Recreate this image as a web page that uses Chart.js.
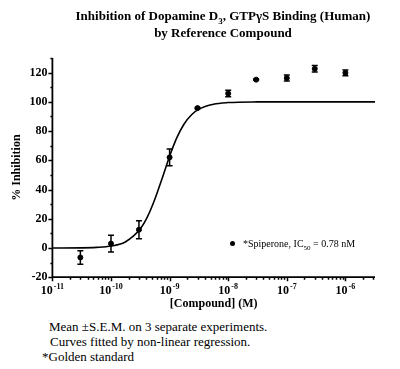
<!DOCTYPE html>
<html>
<head>
<meta charset="utf-8">
<script src="https://cdn.jsdelivr.net/npm/chart.js@4.4.1/dist/chart.umd.min.js"></script>
<style>
  body { margin: 0; background: #fff; }
  #wrap { position: relative; width: 400px; height: 369px; font-family: "Liberation Serif", serif; color: #000; }
  #chart { position: absolute; left: 0; top: 0; }
  .title { position: absolute; left: 0; width: 446px; text-align: center; font-weight: bold; font-size: 13px; line-height: 17px; top: 7px; }
  .title sub { font-size: 9px; line-height: 0; }
  .legend { position: absolute; left: 230px; top: 238px; font-size: 10px; white-space: nowrap; }
  .legend .dot { display: inline-block; width: 5px; height: 5px; border-radius: 50%; background: #000; margin-right: 8px; vertical-align: 1px; }
  .legend sub { font-size: 7px; line-height: 0; }
  .notes { position: absolute; top: 319px; font-size: 13px; line-height: 15px; white-space: nowrap; }
</style>
</head>
<body>
<div id="wrap">
  <canvas id="chart" width="400" height="311"></canvas>
  <div class="title">Inhibition of Dopamine D<sub>3</sub>, GTPγS Binding (Human)<br>by Reference Compound</div>
  <div class="legend"><span class="dot"></span>*Spiperone, IC<sub>50</sub> = 0.78 nM</div>
  <div class="notes" style="left:49px">Mean ±S.E.M. on 3 separate experiments.</div>
  <div class="notes" style="left:50px;top:334px">Curves fitted by non-linear regression.</div>
  <div class="notes" style="left:42px;top:349px">*Golden standard</div>
</div>
<script>
// measured points (M, % inhibition, S.E.M.)
const concentrations = [3e-11, 1e-10, 3e-10, 1e-9, 3e-9, 1e-8, 3e-8, 1e-7, 3e-7, 1e-6];
const inhibition = [-6.5, 3, 12.5, 62, 95.7, 105.7, 115.2, 116.3, 122.6, 119.8];
const sem = [4.6, 5.7, 6.2, 5.8, 0.5, 2.3, 0.5, 2, 2.2, 2];

// fitted curve
const fitConc = [1e-11, 3.16e-11, 5.62e-11, 1e-10, 1.78e-10, 3.16e-10, 4.22e-10, 5.62e-10, 7.5e-10, 1e-9,
  1.33e-9, 1.78e-9, 2.37e-9, 3.16e-9, 5.62e-9, 1e-8, 3.16e-8, 1e-7, 3.2e-6];
const fitValues = [0, 0.1, 0.4, 1.3, 4.3, 13.1, 21.6, 33.5, 47.9, 62.8,
  75.5, 85.0, 91.2, 95.0, 98.4, 99.5, 99.95, 100, 100];

const yTicks = [-20, 0, 20, 40, 60, 80, 100, 120];
const xDecades = [-11, -10, -9, -8, -7, -6];

const tickFont = { family: "Liberation Serif", size: 12, weight: "bold" };

// axes, tick marks, x labels with superscripts, error bars
const extras = {
  id: "extras",
  afterDatasetsDraw(chart) {
    const { ctx, scales: { x, y } } = chart;
    ctx.save();
    ctx.strokeStyle = "#000";
    ctx.lineWidth = 1.5;
    concentrations.forEach((c, i) => {
      const px = x.getPixelForValue(c);
      const top = y.getPixelForValue(inhibition[i] + sem[i]);
      const bot = y.getPixelForValue(inhibition[i] - sem[i]);
      ctx.beginPath();
      ctx.moveTo(px, top); ctx.lineTo(px, bot);
      ctx.moveTo(px - 3, top); ctx.lineTo(px + 3, top);
      ctx.moveTo(px - 3, bot); ctx.lineTo(px + 3, bot);
      ctx.stroke();
    });
    ctx.restore();
  },
  afterDraw(chart) {
    const { ctx, scales: { x, y } } = chart;
    ctx.save();
    ctx.strokeStyle = "#000";
    ctx.lineWidth = 1.8;
    ctx.beginPath();
    ctx.moveTo(x.left, y.top); ctx.lineTo(x.left, y.bottom); ctx.lineTo(x.right, y.bottom);
    ctx.stroke();
    ctx.lineWidth = 1.5;
    ctx.beginPath();
    for (let v = -20; v <= 130; v += 10) {
      const py = Math.round(y.getPixelForValue(v)) + 0.5;
      const len = v % 20 === 0 ? 4 : 2;
      ctx.moveTo(x.left, py); ctx.lineTo(x.left - len, py);
    }
    xDecades.forEach((e) => {
      for (let k = 1; k <= 9; k++) {
        const v = k * Math.pow(10, e);
        if (v > x.max * 1.0001) continue;
        const px = Math.round(x.getPixelForValue(v)) + 0.5;
        const len = k === 1 ? 4 : 2.5;
        ctx.moveTo(px, y.bottom); ctx.lineTo(px, y.bottom + len);
      }
    });
    ctx.stroke();

    // x labels: 10 with raised exponent
    ctx.fillStyle = "#000";
    ctx.textBaseline = "alphabetic";
    xDecades.forEach((e) => {
      const px = x.getPixelForValue(Math.pow(10, e));
      ctx.font = "bold 12px 'Liberation Serif'";
      const wb = ctx.measureText("10").width;
      ctx.font = "bold 8px 'Liberation Serif'";
      const we = ctx.measureText(String(e)).width;
      const start = px - (wb + we + 1) / 2;
      const base = y.bottom + 17;
      ctx.font = "bold 12px 'Liberation Serif'";
      ctx.fillText("10", start, base);
      ctx.font = "bold 8px 'Liberation Serif'";
      ctx.fillText(String(e), start + wb + 1, base - 5);
    });
    ctx.restore();
  }
};

new Chart(document.getElementById("chart"), {
  type: "scatter",
  data: {
    datasets: [
      {
        label: "*Spiperone",
        data: concentrations.map((c, i) => ({ x: c, y: inhibition[i] })),
        backgroundColor: "#000",
        borderColor: "#000",
        pointRadius: 2.5,
        pointHoverRadius: 2.5,
      },
      {
        type: "line",
        label: "fit",
        data: fitConc.map((c, i) => ({ x: c, y: fitValues[i] })),
        borderColor: "#000",
        borderWidth: 1.6,
        pointRadius: 0,
        cubicInterpolationMode: "monotone",
        fill: false,
      },
    ],
  },
  options: {
    animation: false,
    responsive: false,
    events: [],
    layout: { padding: { top: 58, right: 25, left: 10, bottom: 0 } },
    plugins: { legend: { display: false }, tooltip: { enabled: false } },
    scales: {
      x: {
        type: "logarithmic",
        min: 1e-11,
        max: 3.2e-6,
        grid: { display: false, drawTicks: false },
        border: { display: false },
        afterBuildTicks: (s) => {
          s.ticks = xDecades.map((e) => ({ value: Math.pow(10, e) }));
        },
        ticks: {
          autoSkip: false,
          maxRotation: 0,
          color: "transparent",
          font: tickFont,
          padding: 1,
          callback: () => "10",
        },
        title: { display: true, text: "[Compound] (M)", color: "#000", font: tickFont, padding: { top: 3, bottom: 0 } },
      },
      y: {
        min: -20,
        max: 130,
        grid: { display: false, drawTicks: false },
        border: { display: false },
        afterBuildTicks: (s) => {
          s.ticks = yTicks.map((v) => ({ value: v }));
        },
        ticks: { color: "#000", font: tickFont, padding: 5 },
        title: { display: true, text: "% Inhibition", color: "#000", font: tickFont, padding: { top: 0, bottom: 0 } },
      },
    },
  },
  plugins: [extras],
});
</script>
</body>
</html>
